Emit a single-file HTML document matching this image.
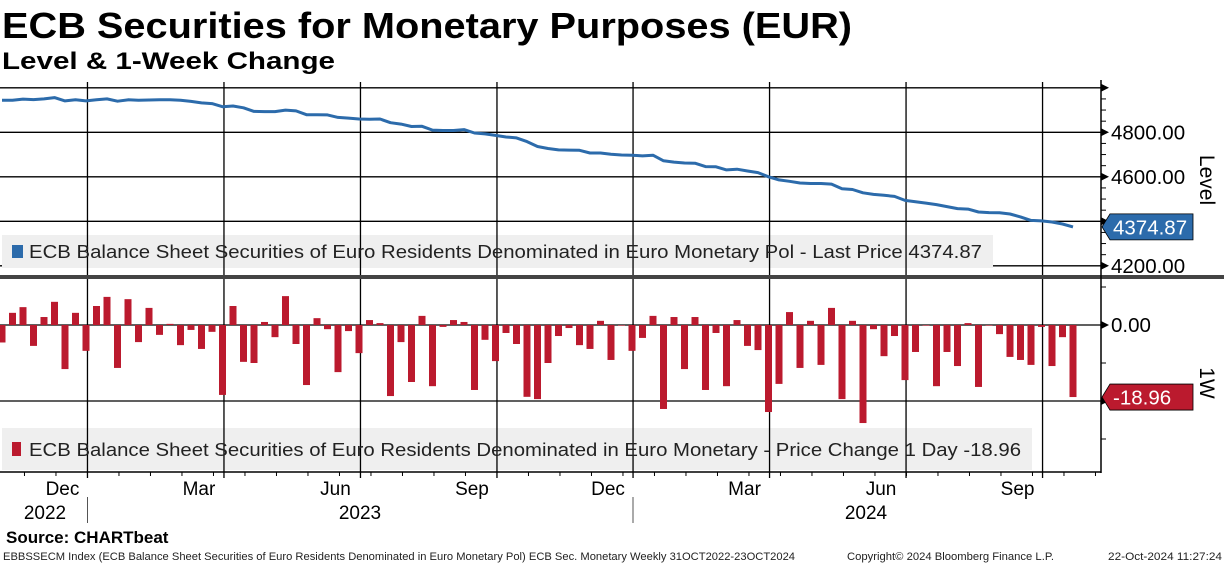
<!DOCTYPE html>
<html><head><meta charset="utf-8">
<style>
body{margin:0;background:#fff;}
svg{display:block;font-family:"Liberation Sans",sans-serif;}
</style></head>
<body>
<svg id="chart" width="1224" height="565" viewBox="0 0 1224 565" xmlns="http://www.w3.org/2000/svg">
<rect x="0" y="0" width="1224" height="565" fill="#fff"/>
<text x="2" y="38" font-size="36" font-weight="bold" textLength="850" lengthAdjust="spacingAndGlyphs">ECB Securities for Monetary Purposes (EUR)</text>
<text x="2" y="69" font-size="24" font-weight="bold" textLength="333" lengthAdjust="spacingAndGlyphs">Level &amp; 1-Week Change</text>
<g id="grid"></g>
<rect x="2" y="235" width="991" height="33" fill="#efefef"/>
<rect x="2" y="428" width="1030" height="42" fill="#efefef"/>
<g id="vgrid"></g>
<g id="bars"></g>
<path id="levelLine" fill="none" stroke="#2c6bab" stroke-width="3" stroke-linejoin="round"/>
<rect x="12" y="245" width="11" height="13" fill="#2c6bab"/>
<text x="29" y="258" font-size="18.5" fill="#222" textLength="953" lengthAdjust="spacingAndGlyphs">ECB Balance Sheet Securities of Euro Residents Denominated in Euro Monetary Pol - Last Price 4374.87</text>
<rect x="12" y="442" width="9" height="14" fill="#bb1a2e"/>
<text x="29" y="456" font-size="18.5" fill="#222" textLength="992" lengthAdjust="spacingAndGlyphs">ECB Balance Sheet Securities of Euro Residents Denominated in Euro Monetary - Price Change 1 Day -18.96</text>
<rect x="0" y="275" width="1224" height="4" fill="#444"/>
<line x1="1101" y1="80" x2="1101" y2="473" stroke="#000" stroke-width="1.5"/>
<line x1="0" y1="472" x2="1101" y2="472" stroke="#000" stroke-width="1.5"/>
<g id="axes"></g>
<text transform="translate(1200,180) rotate(90)" font-size="21" text-anchor="middle">Level</text>
<text transform="translate(1200,383) rotate(90)" font-size="21" text-anchor="middle">1W</text>
<text x="6" y="543" font-size="17" font-weight="bold">Source: CHARTbeat</text>
<text x="3" y="560" font-size="11" fill="#222" textLength="792" lengthAdjust="spacingAndGlyphs">EBBSSECM Index (ECB Balance Sheet Securities of Euro Residents Denominated in Euro Monetary Pol) ECB Sec. Monetary  Weekly 31OCT2022-23OCT2024</text>
<text x="847" y="560" font-size="11" fill="#222" textLength="207" lengthAdjust="spacingAndGlyphs">Copyright© 2024 Bloomberg Finance L.P.</text>
<text x="1108" y="560" font-size="11" fill="#222" textLength="114" lengthAdjust="spacingAndGlyphs">22-Oct-2024 11:27:24</text>
</svg>
<script>
const levelValues=[4944,4944,4949,4947,4950,4956,4941,4946,4941,4946,4950,4940,4946,4944,4945,4946,4946,4944,4939,4932,4929,4915,4918,4910,4894,4893,4893,4900,4896,4879,4879,4878,4867,4864,4860,4859,4860,4843,4837,4826,4827,4810,4808,4808,4812,4797,4793,4786,4779,4775,4758,4736,4727,4721,4720,4719,4707,4707,4701,4698,4697,4694,4697,4672,4666,4662,4661,4646,4645,4631,4634,4626,4619,4600,4586,4580,4572,4570,4570,4567,4546,4543,4528,4521,4517,4512,4494,4488,4482,4475,4466,4457,4455,4442,4439,4438,4433,4420,4404,4402,4397,4388,4374.87];
const changeValues=[-4.6,3.2,4.7,-5.5,2.1,6.1,-11.6,3.2,-6.8,5.0,7.4,-11.3,6.8,-4.5,4.5,-2.6,0.3,-5.3,-1.3,-6.3,-1.8,-18.4,5.0,-9.7,-10.0,0.8,-3.2,7.6,-5.0,-15.8,1.8,-1.1,-12.4,-1.6,-7.4,1.3,0.5,-18.7,-4.5,-15.0,2.4,-16.1,-0.5,1.3,0.8,-17.1,-3.9,-9.5,-2.1,-5.0,-18.9,-19.5,-10.0,-2.9,-0.8,-5.3,-6.3,1.1,-9.2,-0.1,-6.8,-3.4,2.4,-22.1,2.1,-11.6,2.1,-17.1,-2.1,-16.1,1.3,-5.5,-6.6,-22.9,-15.5,3.4,-11.3,1.1,-10.5,4.5,-19.5,1.1,-25.8,-1.1,-8.2,-2.9,-14.5,-7.1,-0.1,-16.1,-7.1,-10.8,0.5,-16.3,-0.1,-2.4,-8.4,-9.2,-10.5,-0.5,-10.8,-3.2,-18.96];
const levelTicks=[5000,4800,4600,4400,4200];
const levelTickLabels=["","4800.00","4600.00","","4200.00"];
const changeTicks=[20,0,-20,-40];
const changeTickLabels=["","0.00","",""];
const monthLabels=["Dec","Mar","Jun","Sep","Dec","Mar","Jun","Sep"];
const yearLabels=["2022","2023","2024"];
const quarterWeeks=[8.14,21.14,34.14,47.14,60.1,73.1,86.1,99.1];

const NS="http://www.w3.org/2000/svg";
function xIdx(i){return 2+i*10.5;}
function yLevel(v){return 132.3-(v-4800)*0.2225;}
function yChange(v){return 325-v*3.8;}
function mk(tag,attrs,parent){const e=document.createElementNS(NS,tag);for(const k in attrs)e.setAttribute(k,attrs[k]);parent.appendChild(e);return e;}

const grid=document.getElementById('grid');
const vgrid=document.getElementById('vgrid');
const axes=document.getElementById('axes');
const bars=document.getElementById('bars');

levelTicks.forEach((t,i)=>{
  const y=yLevel(t);
  const l=mk('line',{x1:0,y1:y,x2:1101,y2:y,stroke:'#000','stroke-width':1.3},grid);
  
  
  const a=mk('path',{d:`M1101 ${y-4} L1109 ${y} L1101 ${y+4}Z`,fill:'#000'},axes);
  
  
  if(levelTickLabels[i]){
    const tx=mk('text',{x:1111,y:y+7,'font-size':20.5},axes);
    tx.textContent=levelTickLabels[i];
    
    
  }
});
for(let v=5050;v>=4150;v-=50){const y=yLevel(v);if(y<82||y>272)continue;
  const m=mk('line',{x1:1101,y1:y,x2:1106,y2:y,stroke:'#000','stroke-width':1},axes);
  
  }
changeTicks.forEach((t,i)=>{
  const y=yChange(t);
  if(y>280&&y<472){
    const l=mk('line',{x1:0,y1:y,x2:1101,y2:y,stroke:'#000','stroke-width':1.3},grid);
    
    
    const a=mk('path',{d:`M1101 ${y-4} L1109 ${y} L1101 ${y+4}Z`,fill:'#000'},axes);
    
    
  }
  if(changeTickLabels[i]){
    const tx=mk('text',{x:1111,y:y+7,'font-size':20.5},axes);
    tx.textContent=changeTickLabels[i];
    
    
  }
});
for(let v=40;v>=-40;v-=10){const y=yChange(v);if(y<282||y>470)continue;
  const m=mk('line',{x1:1101,y1:y,x2:1106,y2:y,stroke:'#000','stroke-width':1},axes);
  
  }

quarterWeeks.forEach((w,i)=>{
  const x=xIdx(w);
  const l=mk('line',{x1:x,y1:82,x2:x,y2:478,stroke:'#000','stroke-width':1.3},vgrid);
  
  
  const tx=mk('text',{x:x-25,y:495,'font-size':19,'text-anchor':'middle'},axes);
  tx.textContent=monthLabels[i];
  
  
});
for(let k=0;k<=34;k++){const x=xIdx(k*3+0.14+2);if(x>1100)break;
  const m=mk('line',{x1:x,y1:472,x2:x,y2:476,stroke:'#000','stroke-width':1},axes);
  
  }
[[87.5],[633]].forEach(p=>{const s=mk('line',{x1:p[0],y1:497,x2:p[0],y2:523,stroke:'#555','stroke-width':1},axes);
  
  });
[45,360,866].forEach((x,i)=>{const tx=mk('text',{x:x,y:519,'font-size':19,'text-anchor':'middle'},axes);
  tx.textContent=yearLabels[i];
  
  });

changeValues.forEach((v,i)=>{
  const y0=yChange(0),y1=yChange(v);
  const r=mk('rect',{x:xIdx(i)-3.5,y:Math.min(y0,y1),width:7,height:Math.max(Math.abs(y1-y0),0.6),fill:'#bb1a2e'},bars);
  
  
});
document.getElementById('levelLine').setAttribute('d',levelValues.map((v,i)=>(i?'L':'M')+xIdx(i).toFixed(1)+' '+yLevel(v).toFixed(1)).join(' '));

function tag(y,val,color,name){
  const g=mk('g',{},axes);
  
  
  mk('path',{d:`M1102 ${y} L1110 ${y-13} L1193 ${y-13} L1193 ${y+13} L1110 ${y+13} Z`,fill:color,stroke:'#000','stroke-width':0.8},g);
  const t=mk('text',{x:1113,y:y+7.5,'font-size':20.5,fill:'#fff'},g);
  t.textContent=val;
}
tag(yLevel(levelValues[levelValues.length-1]),levelValues[levelValues.length-1].toFixed(2),'#2c6bab','level-value-tag');
tag(yChange(changeValues[changeValues.length-1]),changeValues[changeValues.length-1].toFixed(2),'#bb1a2e','change-value-tag');
</script>
</body></html>
